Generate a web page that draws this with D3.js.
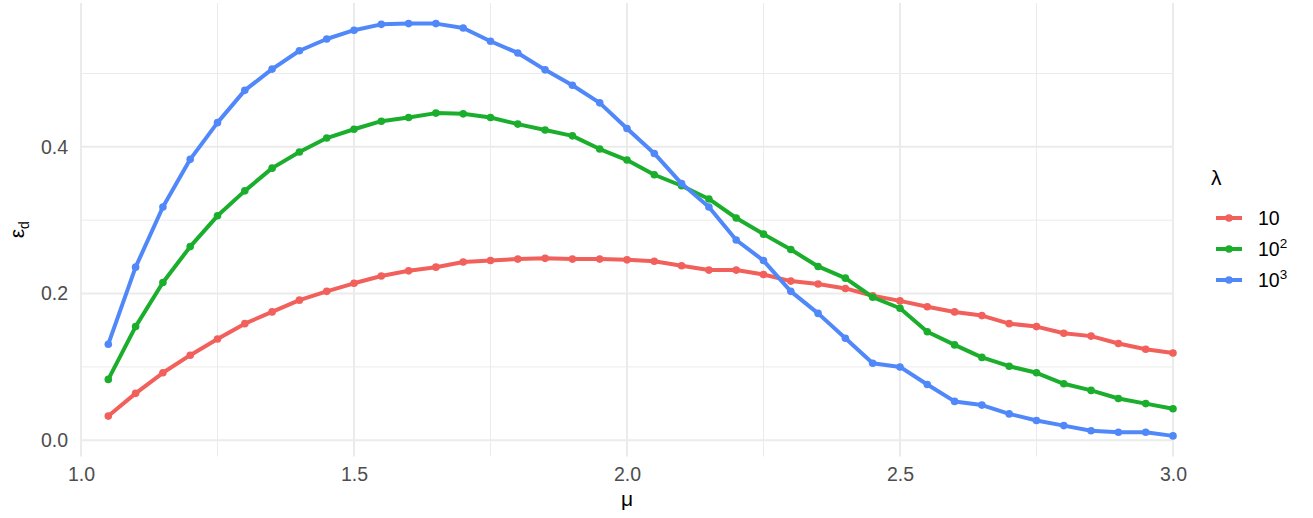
<!DOCTYPE html>
<html>
<head>
<meta charset="utf-8">
<script src="https://cdn.jsdelivr.net/npm/d3@7"></script>
<style>
  html, body { margin: 0; padding: 0; background: #ffffff; }
  svg { display: block; font-family: "Liberation Sans", Arial, sans-serif; }
</style>
</head>
<body>
<svg id="chart" width="1313" height="518"></svg>
<script>
// mu grid (x axis)
const mu = [1.05, 1.10, 1.15, 1.20, 1.25, 1.30, 1.35, 1.40, 1.45, 1.50,
            1.55, 1.60, 1.65, 1.70, 1.75, 1.80, 1.85, 1.90, 1.95, 2.00,
            2.05, 2.10, 2.15, 2.20, 2.25, 2.30, 2.35, 2.40, 2.45, 2.50,
            2.55, 2.60, 2.65, 2.70, 2.75, 2.80, 2.85, 2.90, 2.95, 3.00];

// epsilon_d for lambda = 10
const eps10 = [0.033, 0.064, 0.092, 0.116, 0.138, 0.159, 0.175, 0.191, 0.203, 0.214,
               0.224, 0.231, 0.236, 0.243, 0.245, 0.247, 0.248, 0.247, 0.247, 0.246,
               0.244, 0.238, 0.232, 0.232, 0.226, 0.217, 0.213, 0.207, 0.197, 0.190,
               0.182, 0.175, 0.170, 0.159, 0.155, 0.146, 0.142, 0.132, 0.124, 0.119];

// epsilon_d for lambda = 10^2
const eps100 = [0.083, 0.155, 0.215, 0.264, 0.306, 0.340, 0.371, 0.393, 0.412, 0.424,
                0.435, 0.440, 0.446, 0.445, 0.440, 0.431, 0.423, 0.415, 0.397, 0.382,
                0.362, 0.347, 0.329, 0.303, 0.281, 0.260, 0.237, 0.221, 0.195, 0.180,
                0.148, 0.130, 0.113, 0.101, 0.092, 0.077, 0.068, 0.057, 0.050, 0.043];

// epsilon_d for lambda = 10^3
const eps1000 = [0.131, 0.236, 0.318, 0.383, 0.433, 0.477, 0.506, 0.531, 0.547, 0.559,
                 0.567, 0.568, 0.568, 0.562, 0.544, 0.528, 0.505, 0.484, 0.460, 0.425,
                 0.391, 0.350, 0.318, 0.273, 0.245, 0.203, 0.173, 0.139, 0.105, 0.100,
                 0.076, 0.053, 0.048, 0.036, 0.027, 0.020, 0.013, 0.011, 0.011, 0.006];

const seriesBase = ["10", "10", "10"];
const seriesExp = ["", "2", "3"];
const seriesColors = ["#F2605B", "#1BAE2D", "#5088FA"];
const xTicks = [1.0, 1.5, 2.0, 2.5, 3.0];
const xMinorTicks = [1.25, 1.75, 2.25, 2.75];
const yTicks = [0.0, 0.2, 0.4];
const yMinorTicks = [0.1, 0.3, 0.5];

const series = [eps10, eps100, eps1000].map((vals, i) => ({
  base: seriesBase[i], exp: seriesExp[i], color: seriesColors[i],
  points: vals.map((v, j) => ({ x: mu[j], y: v }))
}));

const svg = d3.select("#chart");
const panel = { left: 81, right: 1173, top: 3, bottom: 456.5 };

const x = d3.scaleLinear().domain([1, 3]).range([panel.left, panel.right]);

// y range padded by 5% of the data span on each side
const allY = [].concat(eps10, eps100, eps1000);
const [yMin, yMax] = d3.extent(allY);
const pad = (yMax - yMin) * 0.05;
const y = d3.scaleLinear().domain([yMin - pad, yMax + pad]).range([panel.bottom, panel.top]);

const grid = svg.append("g");
// minor grid
grid.selectAll("line.vminor").data(xMinorTicks).join("line")
  .attr("x1", d => x(d)).attr("x2", d => x(d))
  .attr("y1", panel.top).attr("y2", panel.bottom)
  .attr("stroke", "#ebebeb").attr("stroke-width", 1);
grid.selectAll("line.hminor").data(yMinorTicks).join("line")
  .attr("x1", panel.left).attr("x2", panel.right)
  .attr("y1", d => y(d)).attr("y2", d => y(d))
  .attr("stroke", "#ebebeb").attr("stroke-width", 1);
// major grid
grid.selectAll("line.vmajor").data(xTicks).join("line")
  .attr("x1", d => x(d)).attr("x2", d => x(d))
  .attr("y1", panel.top).attr("y2", panel.bottom)
  .attr("stroke", "#ebebeb").attr("stroke-width", 2);
grid.selectAll("line.hmajor").data(yTicks).join("line")
  .attr("x1", panel.left).attr("x2", panel.right)
  .attr("y1", d => y(d)).attr("y2", d => y(d))
  .attr("stroke", "#ebebeb").attr("stroke-width", 2);

// axes (labels only, minimal style)
const xAxis = svg.append("g")
  .attr("transform", `translate(0,${panel.bottom})`)
  .call(d3.axisBottom(x).tickValues(xTicks).tickFormat(d3.format(".1f")).tickSize(0).tickPadding(11));
const yAxis = svg.append("g")
  .attr("transform", `translate(${panel.left},0)`)
  .call(d3.axisLeft(y).tickValues(yTicks).tickFormat(d3.format(".1f")).tickSize(0).tickPadding(13));
[xAxis, yAxis].forEach(a => {
  a.select(".domain").remove();
  a.selectAll("text").attr("fill", "#4d4d4d").style("font-size", "19.5px")
    .style("font-family", "'Liberation Sans', Arial, sans-serif");
});

// series
const line = d3.line().x(d => x(d.x)).y(d => y(d.y));
const marks = svg.append("g");
series.forEach(s => {
  marks.append("path").datum(s.points)
    .attr("d", line).attr("fill", "none")
    .attr("stroke", s.color).attr("stroke-width", 4)
    .attr("stroke-linejoin", "round");
  marks.selectAll(null).data(s.points).join("circle")
    .attr("cx", d => x(d.x)).attr("cy", d => y(d.y)).attr("r", 3.8)
    .attr("fill", s.color);
});

// axis titles
svg.append("text")
  .attr("x", (panel.left + panel.right) / 2).attr("y", 506)
  .attr("text-anchor", "middle").style("font-size", "21px").attr("fill", "#000")
  .text("μ");

const yTitle = svg.append("text")
  .attr("transform", `translate(24,${(panel.top + panel.bottom) / 2}) rotate(-90)`)
  .attr("text-anchor", "middle").style("font-size", "21px").attr("fill", "#000");
yTitle.append("tspan").text("ε");
yTitle.append("tspan").attr("dy", 5).style("font-size", "14px").text("d");

// legend
const legend = svg.append("g");
legend.append("text").attr("x", 1211).attr("y", 185)
  .style("font-size", "21px").attr("fill", "#000").text("λ");
series.forEach((s, i) => {
  const ky = 218 + i * 31;
  legend.append("line").attr("x1", 1216).attr("x2", 1242)
    .attr("y1", ky).attr("y2", ky)
    .attr("stroke", s.color).attr("stroke-width", 4);
  legend.append("circle").attr("cx", 1229).attr("cy", ky).attr("r", 3.8).attr("fill", s.color);
  const t = legend.append("text").attr("x", 1258).attr("y", ky + 7)
    .style("font-size", "19.5px").attr("fill", "#000");
  t.append("tspan").text(s.base);
  if (s.exp) t.append("tspan").attr("dy", -8).style("font-size", "13.5px").text(s.exp);
});
</script>
</body>
</html>
